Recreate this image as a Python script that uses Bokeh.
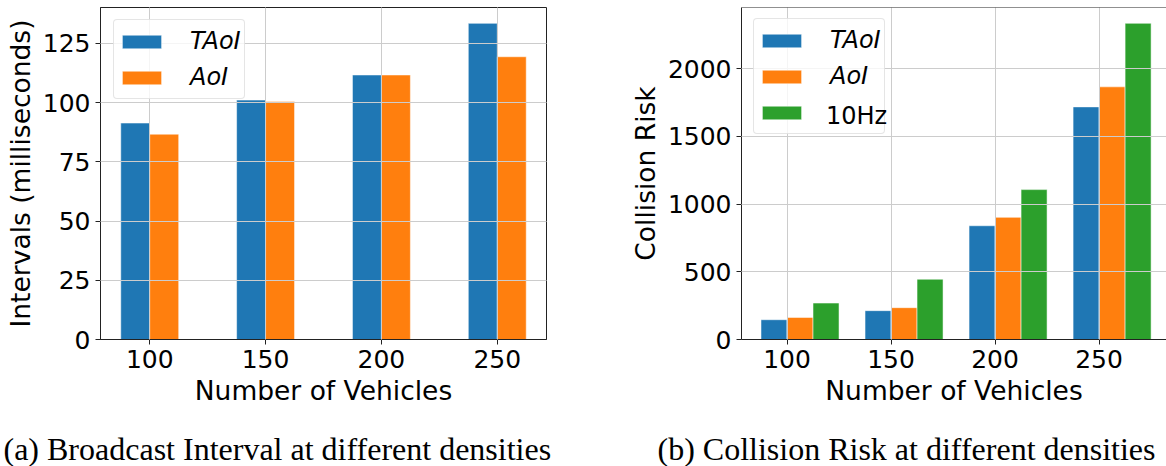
import numpy as np
from bokeh.plotting import figure
from bokeh.models import Range1d, FixedTicker, Legend, LegendItem, Label, Span
from bokeh.layouts import row, column
from bokeh.embed import file_html
from bokeh.resources import INLINE

# ---- data ----
vehicles = [100, 150, 200, 250]
interval_taoi = [91.4, 101.1, 111.7, 133.5]
interval_aoi = [86.7, 100.5, 111.7, 119.4]
risk_taoi = [146, 213, 840, 1718]
risk_aoi = [163, 235, 902, 1866]
risk_10hz = [269, 445, 1107, 2335]
interval_ticks = [0, 25, 50, 75, 100, 125]
risk_ticks = [0, 500, 1000, 1500, 2000]
series_names = ["TAoI", "AoI", "10Hz"]
caption_a = "(a) Broadcast Interval at different densities"
caption_b = "(b) Collision Risk at different densities"

BLUE, ORANGE, GREEN = "#1f77b4", "#ff7f0e", "#2ca02c"
DARK = "#222222"
FONT = "DejaVu Sans"
BAR_W = 12.5
MAIN_H = 412
CAP_H = 466 - MAIN_H
v = np.array(vehicles, dtype=float)


def style(p, yticks):
    p.xaxis.ticker = FixedTicker(ticks=vehicles)
    p.yaxis.ticker = FixedTicker(ticks=yticks)
    for ax in (p.xaxis[0], p.yaxis[0]):
        ax.major_label_text_font = FONT
        ax.major_label_text_font_size = "25px"
        ax.major_label_text_color = "black"
        ax.axis_label_text_font = FONT
        ax.axis_label_text_font_size = "26.5px"
        ax.axis_label_text_font_style = "normal"
        ax.axis_label_text_color = "black"
        ax.axis_line_color = DARK
        ax.major_tick_line_color = DARK
        ax.major_tick_out = 5
        ax.major_tick_in = 0
        ax.minor_tick_line_color = None
        ax.major_label_standoff = 5
        ax.axis_label_standoff = 4
    p.grid.grid_line_color = "#cccccc"
    p.grid.grid_line_width = 1
    p.grid.level = "guide"
    p.background_fill_color = "white"
    p.border_fill_color = "white"


def make_legend(items, loc, italic=True, box=True):
    lg = Legend(items=items, location=loc)
    lg.label_text_font = FONT
    lg.label_text_font_size = "24px"
    lg.label_text_font_style = "italic" if italic else "normal"
    lg.label_text_color = "black"
    lg.glyph_width = 49
    lg.glyph_height = 17
    lg.label_height = 36
    lg.label_standoff = 24
    lg.spacing = 0
    lg.padding = 3
    lg.margin = 0
    if box:
        lg.border_line_color = "#cccccc"
        lg.border_line_width = 1
        lg.background_fill_color = "white"
        lg.background_fill_alpha = 0.8
        if "border_radius" in Legend.properties():
            lg.border_radius = 4
    else:
        lg.border_line_color = None
        lg.background_fill_alpha = 0
    return lg


def caption_fig(width, text, dx):
    c = figure(width=width, height=CAP_H, output_backend="svg", toolbar_location=None,
               x_axis_type=None, y_axis_type=None, min_border=0,
               min_border_left=0, min_border_right=0, min_border_top=0,
               min_border_bottom=0, x_range=Range1d(0, 1), y_range=Range1d(0, 1))
    c.outline_line_color = None
    c.grid.visible = False
    c.add_layout(Label(x=dx, y=18, x_units="screen", y_units="screen", text=text,
                       text_font="Liberation Serif", text_font_size="32px",
                       text_color="black", text_baseline="alphabetic",
                       text_align="left"))
    return c


bar_kw = dict(width=BAR_W, line_color="white", line_alpha=0.5, line_width=1)

# ---- left chart ----
p1 = figure(width=620, height=MAIN_H, output_backend="svg", toolbar_location=None,
            x_range=Range1d(78.75, 271.25), y_range=Range1d(0, 140.2),
            min_border_left=100, min_border_right=74, min_border_top=7,
            min_border_bottom=MAIN_H - 339, x_axis_label="Number of Vehicles",
            y_axis_label="Intervals (milliseconds)")
ra1 = p1.vbar(x=v - BAR_W / 2, top=interval_taoi, fill_color=BLUE, **bar_kw)
ra2 = p1.vbar(x=v + BAR_W / 2, top=interval_aoi, fill_color=ORANGE, **bar_kw)
style(p1, interval_ticks)
p1.outline_line_color = DARK
p1.outline_line_alpha = 1
p1.add_layout(make_legend([LegendItem(label=series_names[0], renderers=[ra1]),
                           LegendItem(label=series_names[1], renderers=[ra2])],
                          (13, 240)), "center")

# ---- right chart ----
p2 = figure(width=546, height=MAIN_H, output_backend="svg", toolbar_location=None,
            x_range=Range1d(78.125, 282.4), y_range=Range1d(0, 2452),
            min_border_left=121, min_border_right=0, min_border_top=7,
            min_border_bottom=MAIN_H - 339, x_axis_label="Number of Vehicles",
            y_axis_label="Collision Risk")
rb1 = p2.vbar(x=v - BAR_W / 2, top=risk_taoi, fill_color=BLUE, **bar_kw)
rb2 = p2.vbar(x=v + BAR_W / 2, top=risk_aoi, fill_color=ORANGE, **bar_kw)
rb3 = p2.vbar(x=v + BAR_W * 1.5, top=risk_10hz, fill_color=GREEN, **bar_kw)
dummy = p2.vbar(x=[], top=[], width=1, fill_alpha=0, line_alpha=0)
style(p2, risk_ticks)
p2.outline_line_color = None
p2.add_layout(Span(location=2452, dimension="width", line_color=DARK, line_width=1))
p2.add_layout(make_legend([LegendItem(label=series_names[0], renderers=[rb1]),
                           LegendItem(label=series_names[1], renderers=[rb2]),
                           LegendItem(label=" ", renderers=[rb3])],
                          (12, 205)), "center")
p2.add_layout(make_legend([LegendItem(label=series_names[2], renderers=[dummy])],
                          (12, 205), italic=False, box=False), "center")

c1 = caption_fig(620, caption_a, 3)
c2 = caption_fig(546, caption_b, 37)

layout = column(row(p1, p2), row(c1, c2))
open("out.html", "w").write(file_html(layout, INLINE))
